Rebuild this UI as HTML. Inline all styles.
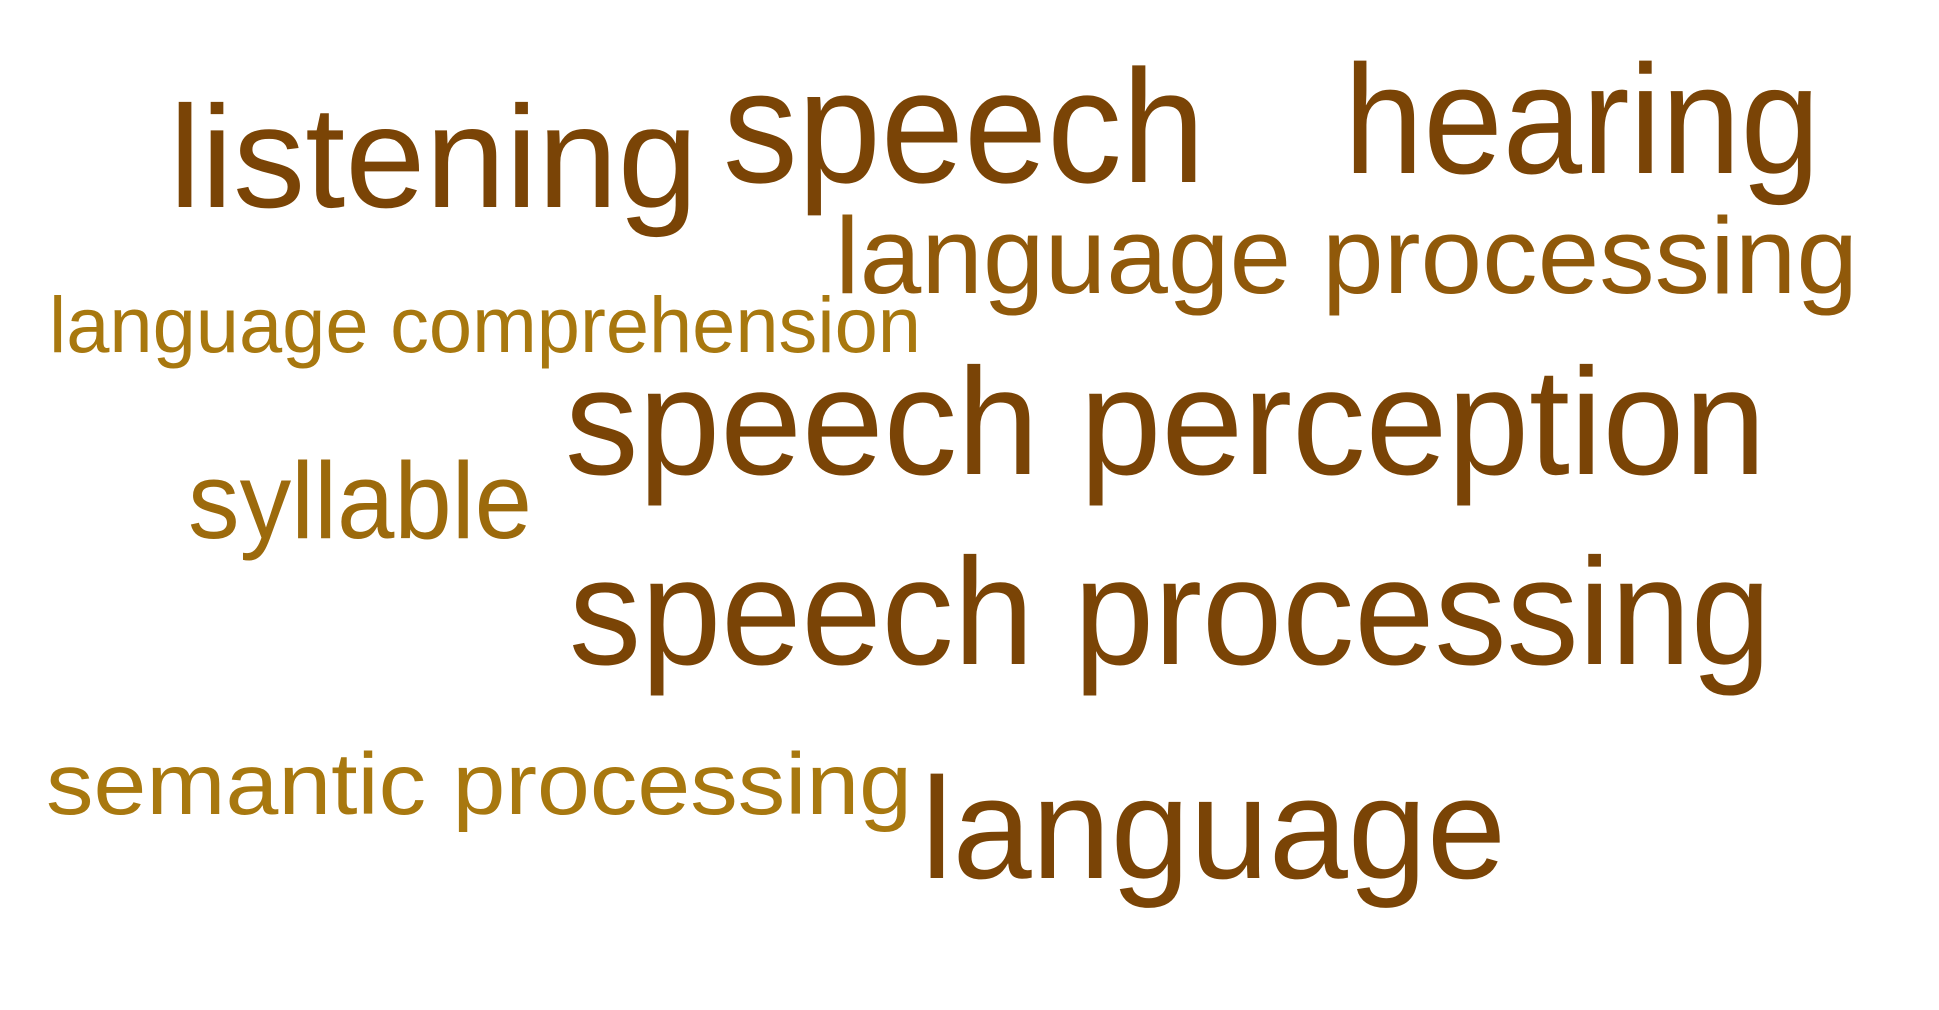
<!DOCTYPE html>
<html><head><meta charset="utf-8"><style>
html,body{margin:0;padding:0;background:#fff;}
svg{display:block;}
text{font-family:"Liberation Sans","DejaVu Sans",sans-serif;}
</style></head><body>
<svg width="1939" height="1010" viewBox="0 0 1939 1010">
<rect width="1939" height="1010" fill="#ffffff"/>
<text x="169" y="207" font-size="145" textLength="529" lengthAdjust="spacingAndGlyphs" fill="#7a4406">listening</text>
<text x="723" y="182" font-size="161" textLength="482" lengthAdjust="spacingAndGlyphs" fill="#7a4406">speech</text>
<text x="1344" y="173" font-size="155" textLength="476" lengthAdjust="spacingAndGlyphs" fill="#7a4406">hearing</text>
<text x="835" y="293" font-size="109" textLength="1023" lengthAdjust="spacingAndGlyphs" fill="#90590a">language processing</text>
<text x="49" y="352" font-size="79" textLength="872" lengthAdjust="spacingAndGlyphs" fill="#a8780f">language comprehension</text>
<text x="565" y="474" font-size="152" textLength="1201" lengthAdjust="spacingAndGlyphs" fill="#7a4406">speech perception</text>
<text x="188" y="538" font-size="109" textLength="344" lengthAdjust="spacingAndGlyphs" fill="#9c6a0c">syllable</text>
<text x="569" y="664" font-size="152" textLength="1202" lengthAdjust="spacingAndGlyphs" fill="#7a4406">speech processing</text>
<text x="46" y="814" font-size="87" textLength="866" lengthAdjust="spacingAndGlyphs" fill="#a8780f">semantic processing</text>
<text x="921" y="878" font-size="144" textLength="585" lengthAdjust="spacingAndGlyphs" fill="#7a4406">language</text>
</svg>
</body></html>
